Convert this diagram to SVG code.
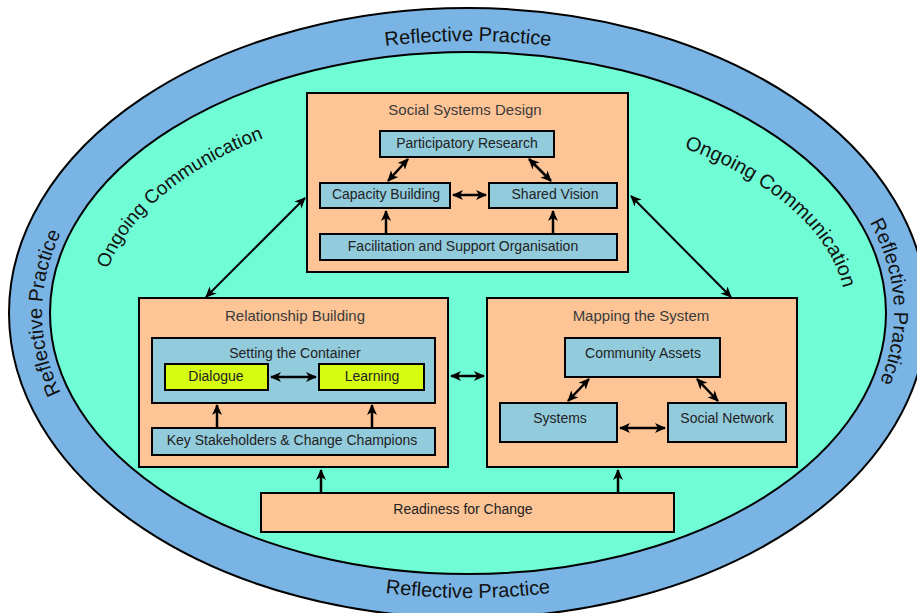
<svg xmlns="http://www.w3.org/2000/svg" width="917" height="613" viewBox="0 0 917 613">
<style>
.ring{font-family:"Liberation Sans",Arial,sans-serif;font-size:20px;fill:#111}
.ongo{font-family:"Liberation Sans",Arial,sans-serif;font-size:19px;fill:#111}
.ongo2{font-family:"Liberation Sans",Arial,sans-serif;font-size:20px;fill:#111}
.title{font-family:"Liberation Sans",Arial,sans-serif;font-size:15px;fill:#3a3a3a;text-anchor:middle}
.lbl{font-family:"Liberation Sans",Arial,sans-serif;font-size:14px;fill:#222;text-anchor:middle}
.orange{fill:#fdc596;stroke:#000;stroke-width:2}
.blue{fill:#92cbdc;stroke:#000;stroke-width:2}
.yellow{fill:#d6fc12;stroke:#000;stroke-width:2}
.arr{stroke:#000;stroke-width:2.5;fill:none}
.arrL{stroke:#000;stroke-width:2;fill:none}
</style>
<defs>
<marker id="ah" markerUnits="userSpaceOnUse" markerWidth="12" markerHeight="12" refX="10" refY="5" orient="auto-start-reverse" viewBox="0 0 12 10">
<path d="M0,0 L11,5 L0,10 L3,5 z" fill="#000"/>
</marker>
<path id="pTop" d="M194.2,104.6 A426,272 0 0,1 741.8,104.6"/>
<path id="pLeft" d="M141.7,487.8 A426,272 0 0,1 141.7,138.2"/>
<path id="pRight" d="M784.6,131 A426,272 0 0,1 803.7,480.5"/>
<path id="pBottom" d="M185.2,531.3 A440,285 0 0,0 750.8,531.3"/>
<path id="pOL" d="M108,269 A368,210 0 0,1 532,106"/>
<path id="pOR" d="M684,148 A378,201 0 0,1 810.6,398"/>
</defs>

<g id="rings">
<ellipse cx="468" cy="313" rx="459" ry="305" fill="#79b4e4" stroke="#000" stroke-width="2"/>
<ellipse cx="468" cy="313" rx="418" ry="261" fill="#70fcd5" stroke="#000" stroke-width="2"/>
<text class="ring"><textPath href="#pTop" startOffset="50%" text-anchor="middle">Reflective Practice</textPath></text>
<text class="ring"><textPath href="#pLeft" startOffset="50%" text-anchor="middle">Reflective Practice</textPath></text>
<text class="ring"><textPath href="#pRight" startOffset="50%" text-anchor="middle">Reflective Practice</textPath></text>
<text class="ring"><textPath href="#pBottom" startOffset="50%" text-anchor="middle">Reflective Practice</textPath></text>
<text class="ongo"><textPath href="#pOL">Ongoing Communication</textPath></text>
<text class="ongo2"><textPath href="#pOR">Ongoing Communication</textPath></text>
</g>

<g id="social-systems-design">
<rect class="orange" x="307" y="93" width="321" height="179"/>
<text class="title" x="465" y="115">Social Systems Design</text>
</g>
<g id="participatory-research">
<rect class="blue" x="380" y="131" width="174" height="26"/>
<text class="lbl" x="467" y="148">Participatory Research</text>
</g>
<g id="capacity-building">
<rect class="blue" x="320" y="183" width="130" height="25"/>
<text class="lbl" x="386" y="199">Capacity Building</text>
</g>
<g id="shared-vision">
<rect class="blue" x="489" y="183" width="128" height="25"/>
<text class="lbl" x="555" y="199">Shared Vision</text>
</g>
<g id="facilitation">
<rect class="blue" x="320" y="234" width="297" height="26"/>
<text class="lbl" x="463" y="251">Facilitation and Support Organisation</text>
</g>

<g id="relationship-building">
<rect class="orange" x="139" y="298" width="309" height="169"/>
<text class="title" x="295" y="321">Relationship Building</text>
</g>
<g id="setting-the-container">
<rect class="blue" x="152" y="338" width="283" height="65"/>
<text class="lbl" x="295" y="358">Setting the Container</text>
</g>
<g id="dialogue">
<rect class="yellow" x="165" y="364" width="103" height="26"/>
<text class="lbl" x="216" y="381">Dialogue</text>
</g>
<g id="learning">
<rect class="yellow" x="319" y="364" width="105" height="26"/>
<text class="lbl" x="372" y="381">Learning</text>
</g>
<g id="key-stakeholders">
<rect class="blue" x="152" y="428" width="283" height="27"/>
<text class="lbl" x="292" y="445">Key Stakeholders &amp; Change Champions</text>
</g>

<g id="mapping-the-system">
<rect class="orange" x="487" y="298" width="310" height="169"/>
<text class="title" x="641" y="321">Mapping the System</text>
</g>
<g id="community-assets">
<rect class="blue" x="565" y="338" width="155" height="39"/>
<text class="lbl" x="643" y="358">Community Assets</text>
</g>
<g id="systems">
<rect class="blue" x="500" y="403" width="117" height="39"/>
<text class="lbl" x="560" y="423">Systems</text>
</g>
<g id="social-network">
<rect class="blue" x="668" y="403" width="118" height="39"/>
<text class="lbl" x="727" y="423">Social Network</text>
</g>

<g id="readiness-for-change">
<rect class="orange" x="261" y="493" width="413" height="39"/>
<text class="lbl" x="463" y="514">Readiness for Change</text>
</g>

<g id="connectors">
<line class="arr" x1="388" y1="181" x2="408" y2="159" marker-start="url(#ah)" marker-end="url(#ah)"/>
<line class="arr" x1="529" y1="159" x2="551" y2="181" marker-start="url(#ah)" marker-end="url(#ah)"/>
<line class="arr" x1="453" y1="195" x2="486" y2="195" marker-start="url(#ah)" marker-end="url(#ah)"/>
<line class="arr" x1="386" y1="234" x2="386" y2="211" marker-end="url(#ah)"/>
<line class="arr" x1="553" y1="234" x2="553" y2="211" marker-end="url(#ah)"/>

<line class="arr" x1="271" y1="377" x2="316" y2="377" marker-start="url(#ah)" marker-end="url(#ah)"/>
<line class="arr" x1="217" y1="428" x2="217" y2="405" marker-end="url(#ah)"/>
<line class="arr" x1="372" y1="428" x2="372" y2="405" marker-end="url(#ah)"/>

<line class="arr" x1="589" y1="379" x2="568" y2="401" marker-start="url(#ah)" marker-end="url(#ah)"/>
<line class="arr" x1="697" y1="379" x2="718" y2="401" marker-start="url(#ah)" marker-end="url(#ah)"/>
<line class="arr" x1="620" y1="428" x2="665" y2="428" marker-start="url(#ah)" marker-end="url(#ah)"/>

<line class="arr" x1="451" y1="376" x2="484" y2="376" marker-start="url(#ah)" marker-end="url(#ah)"/>
<line class="arrL" x1="305" y1="198" x2="206" y2="297" marker-start="url(#ah)" marker-end="url(#ah)"/>
<line class="arrL" x1="631" y1="196" x2="731" y2="297" marker-start="url(#ah)" marker-end="url(#ah)"/>
<line class="arr" x1="321" y1="493" x2="321" y2="470" marker-end="url(#ah)"/>
<line class="arr" x1="618" y1="493" x2="618" y2="470" marker-end="url(#ah)"/>
</g>
</svg>
